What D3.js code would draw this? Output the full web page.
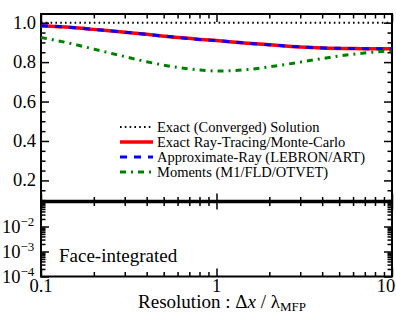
<!DOCTYPE html>
<html>
<head>
<meta charset="utf-8">
<script src="https://cdn.jsdelivr.net/npm/d3@7"></script>
<style>
  body { margin: 0; background: #fff; }
  text { font-family: "Liberation Serif", "DejaVu Serif", serif; fill: #000; }
</style>
</head>
<body>
<div id="chart"></div>
<script>
// values
var resolution = [0.1, 0.15, 0.2, 0.3, 0.4, 0.6, 0.8, 1, 1.5, 2, 3, 4, 6, 8, 10];
var exactConverged = [1, 1, 1, 1, 1, 1, 1, 1, 1, 1, 1, 1, 1, 1, 1];
var rayTracing = [0.985, 0.976, 0.966, 0.952, 0.941, 0.925, 0.915, 0.909, 0.896, 0.888, 0.877, 0.872, 0.869, 0.868, 0.868];
var approxRay = [0.985, 0.976, 0.966, 0.952, 0.941, 0.925, 0.915, 0.909, 0.896, 0.888, 0.877, 0.872, 0.869, 0.868, 0.868];
var moments = [0.925, 0.893, 0.866, 0.828, 0.802, 0.773, 0.760, 0.755, 0.762, 0.776, 0.800, 0.818, 0.840, 0.851, 0.857];

var seriesNames = ["Exact (Converged) Solution", "Exact Ray-Tracing/Monte-Carlo",
  "Approximate-Ray (LEBRON/ART)", "Moments (M1/FLD/OTVET)"];

var xMajor = [0.1, 1, 10];
var xMajorLabels = ["0.1", "1", "10"];
var xMinor = [0.2, 0.3, 0.4, 0.5, 0.6, 0.7, 0.8, 0.9, 2, 3, 4, 5, 6, 7, 8, 9];
var yMajor = [0.2, 0.4, 0.6, 0.8, 1.0];
var yMinor = [0.1, 0.15, 0.25, 0.3, 0.35, 0.45, 0.5, 0.55, 0.65, 0.7, 0.75, 0.85, 0.9, 0.95];
var logMajor = [1e-4, 1e-3, 1e-2, 1e-1];
var logExp = ["\u22124", "\u22123", "\u22122"];

var width = 396, height = 320;
// plot box edges (top panel from pTop to pMid, bottom panel from pMid to pBottom)
var pLeft = 41, pRight = 392, pTop = 14, pMid = 201.5, pBottom = 276.5;

var svg = d3.select("#chart").append("svg")
  .attr("width", width)
  .attr("height", height);

var x = d3.scaleLog().domain([0.1, 10]).range([pLeft, pRight]);
var y = d3.scaleLinear().domain([0.093, 1.044]).range([pMid, pTop]);
var yLog = d3.scaleLog().domain([1e-4, 1e-1]).range([pBottom, pMid]);

// tick marks, all pointing inwards
function ticks(axis, scale, vals, size, tx, ty) {
  var g = svg.append("g")
    .attr("transform", "translate(" + tx + "," + ty + ")")
    .call(axis(scale).tickValues(vals).tickSize(size).tickFormat(""));
  g.select(".domain").remove();
  g.selectAll("line").attr("stroke", "#000").attr("stroke-width", 1.5);
}

// top panel
ticks(d3.axisBottom, x, xMajor, -8, 0, pMid);
ticks(d3.axisBottom, x, xMinor, -4.5, 0, pMid);
ticks(d3.axisTop, x, xMajor, -8, 0, pTop);
ticks(d3.axisTop, x, xMinor, -4.5, 0, pTop);
ticks(d3.axisLeft, y, yMajor, -8, pLeft, 0);
ticks(d3.axisLeft, y, yMinor, -4.5, pLeft, 0);
ticks(d3.axisRight, y, yMajor, -8, pRight, 0);
ticks(d3.axisRight, y, yMinor, -4.5, pRight, 0);

// bottom panel
var logMinor = [];
[1e-4, 1e-3, 1e-2].forEach(function (b) {
  for (var k = 2; k <= 9; k++) logMinor.push(b * k);
});
ticks(d3.axisTop, x, xMajor, -8, 0, pMid);
ticks(d3.axisTop, x, xMinor, -4.5, 0, pMid);
ticks(d3.axisBottom, x, xMajor, -8, 0, pBottom);
ticks(d3.axisBottom, x, xMinor, -4.5, 0, pBottom);
ticks(d3.axisLeft, yLog, logMajor, -8, pLeft, 0);
ticks(d3.axisLeft, yLog, logMinor, -4.5, pLeft, 0);
ticks(d3.axisRight, yLog, logMajor, -8, pRight, 0);
ticks(d3.axisRight, yLog, logMinor, -4.5, pRight, 0);

// frames
svg.append("rect")
  .attr("x", pLeft).attr("y", pTop)
  .attr("width", pRight - pLeft).attr("height", pMid - pTop)
  .attr("fill", "none").attr("stroke", "#000").attr("stroke-width", 2);
svg.append("rect")
  .attr("x", pLeft).attr("y", pMid)
  .attr("width", pRight - pLeft).attr("height", pBottom - pMid)
  .attr("fill", "none").attr("stroke", "#000").attr("stroke-width", 2);
svg.append("line")
  .attr("x1", pLeft).attr("x2", pRight)
  .attr("y1", pMid).attr("y2", pMid)
  .attr("stroke", "#000").attr("stroke-width", 3.5);

// lines
var styles = [
  { values: exactConverged, color: "#000", width: 2, dash: "1.6,3.2" },
  { values: rayTracing, color: "#ff0000", width: 3.5, dash: null },
  { values: approxRay, color: "#0000ff", width: 3, dash: "7,7" },
  { values: moments, color: "#008000", width: 3, dash: "6,5,2,5" }
];

var line = d3.line()
  .x(d => x(d[0]))
  .y(d => y(d[1]))
  .curve(d3.curveMonotoneX);

svg.append("clipPath").attr("id", "clipTop")
  .append("rect").attr("x", pLeft).attr("y", pTop)
  .attr("width", pRight - pLeft).attr("height", pMid - pTop);

styles.forEach(function (s) {
  svg.append("path")
    .datum(resolution.map((r, i) => [r, s.values[i]]))
    .attr("clip-path", "url(#clipTop)")
    .attr("d", line)
    .attr("fill", "none")
    .attr("stroke", s.color)
    .attr("stroke-width", s.width)
    .attr("stroke-dasharray", s.dash);
});

// legend
var legendX = 120, legendY = 127, legendStep = 15;
styles.forEach(function (s, i) {
  var ly = legendY + i * legendStep;
  svg.append("line")
    .attr("x1", legendX).attr("x2", legendX + 33)
    .attr("y1", ly).attr("y2", ly)
    .attr("stroke", s.color)
    .attr("stroke-width", s.width)
    .attr("stroke-dasharray", s.dash);
  svg.append("text")
    .attr("x", legendX + 37)
    .attr("y", ly + 5)
    .style("font-size", "14.5px")
    .text(seriesNames[i]);
});

// tick labels
svg.selectAll(".ylab").data(yMajor).enter().append("text")
  .attr("x", pLeft - 5)
  .attr("y", d => y(d) + 6)
  .attr("text-anchor", "end")
  .style("font-size", "18.5px")
  .text(d => d.toFixed(1));

var logLab = svg.selectAll(".loglab").data(logMajor.slice(0, 3)).enter().append("text")
  .attr("x", 2)
  .attr("y", d => yLog(d) + 6)
  .style("font-size", "18.5px");
logLab.append("tspan").text("10");
logLab.append("tspan")
  .attr("dy", -7)
  .style("font-size", "13px")
  .text((d, i) => logExp[i]);

// keep the last label inside the window, as in the reference
svg.selectAll(".xlab").data(xMajor).enter().append("text")
  .attr("x", d => Math.min(x(d), 386))
  .attr("y", 292)
  .attr("text-anchor", "middle")
  .style("font-size", "18.5px")
  .text((d, i) => xMajorLabels[i]);

// axis title
var title = svg.append("text")
  .attr("x", 222)
  .attr("y", 308)
  .attr("text-anchor", "middle")
  .style("font-size", "19px");
title.append("tspan").text("Resolution :  \u0394");
title.append("tspan").style("font-style", "italic").text("x");
title.append("tspan").text(" / \u03bb");
title.append("tspan").attr("dy", 3).style("font-size", "13px").text("MFP");

svg.append("text")
  .attr("x", 59)
  .attr("y", 262)
  .style("font-size", "19px")
  .text("Face-integrated");
</script>
</body>
</html>
